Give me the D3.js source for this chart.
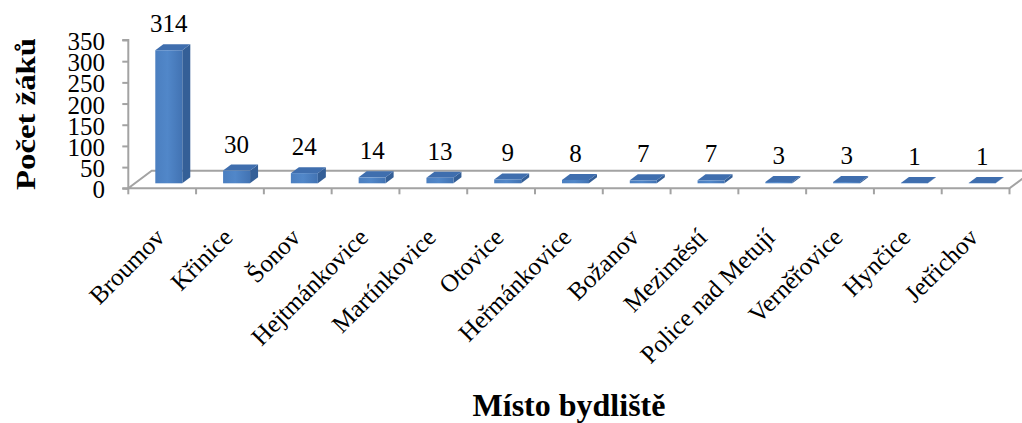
<!DOCTYPE html>
<html>
<head>
<meta charset="utf-8">
<script src="https://cdn.jsdelivr.net/npm/d3@7"></script>
<style>
  html, body { margin: 0; padding: 0; background: #fff; }
  svg { display: block; }
  text { font-family: "Liberation Serif", "Times New Roman", serif; fill: #000; }
</style>
</head>
<body>
<svg id="chart" width="1022" height="423"></svg>
<script>
// Počet žáků podle místa bydliště
const categories = ["Broumov", "Křinice", "Šonov", "Hejtmánkovice", "Martínkovice", "Otovice",
  "Heřmánkovice", "Božanov", "Meziměstí", "Police nad Metují", "Verněřovice", "Hynčice", "Jetřichov"];
const values = [314, 30, 24, 14, 13, 9, 8, 7, 7, 3, 3, 1, 1];
const yTicks = [0, 50, 100, 150, 200, 250, 300, 350];
const yTitle = "Počet žáků";
const xTitle = "Místo bydliště";

const svg = d3.select("#chart");

// plot frame (front edge of the floor and value axis)
const plotLeft = 128.3, plotRight = 1009.5, plotTop = 40, plotBottom = 188.3;
// oblique projection of the floor depth
const floorDx = 23.4, floorDy = -17.6;
// bars sit part way into the floor and have their own depth
const barOffX = 6.6, barOffY = -5;
const barDx = 8, barDy = -6;
const barW = 27;

const x = d3.scaleBand().domain(categories).range([plotLeft, plotRight]).padding(0);
const y = d3.scaleLinear().domain([0, 350]).range([plotBottom, plotTop]);

const axisColor = "#a3a3a3";

// floor
svg.append("path")
  .attr("d", `M${plotLeft},${plotBottom} L${plotRight},${plotBottom} L${plotRight + floorDx},${plotBottom + floorDy} L${plotLeft + floorDx},${plotBottom + floorDy} Z`)
  .attr("fill", "#fff")
  .attr("stroke", axisColor)
  .attr("stroke-width", 2);

// value axis
const yAxis = svg.append("g").attr("transform", `translate(${plotLeft},0)`)
  .call(d3.axisLeft(y).tickValues(yTicks).tickSize(6).tickFormat(""));
yAxis.select(".domain").attr("stroke", axisColor).attr("stroke-width", 2)
  .attr("d", `M-6,${plotTop}H0V${plotBottom}H-6`);
yAxis.selectAll(".tick line").attr("stroke", axisColor).attr("stroke-width", 2);

svg.append("g").selectAll("text").data(yTicks).join("text")
  .attr("x", 105)
  .attr("y", d => y(d) + 10)
  .attr("text-anchor", "end")
  .attr("font-size", 25)
  .text(d => d);

// category axis ticks along the front edge
const boundaries = categories.map(c => x(c)).concat([plotRight]);
svg.append("g").selectAll("line").data(boundaries).join("line")
  .attr("x1", d => d).attr("x2", d => d)
  .attr("y1", plotBottom).attr("y2", plotBottom + 6)
  .attr("stroke", axisColor).attr("stroke-width", 2);

// bar shading
const defs = svg.append("defs");
const grad = defs.append("linearGradient").attr("id", "barFront")
  .attr("x1", "0").attr("x2", "1").attr("y1", "0").attr("y2", "0");
grad.append("stop").attr("offset", "0").attr("stop-color", "#4b7fc0");
grad.append("stop").attr("offset", "0.45").attr("stop-color", "#5187c9");
grad.append("stop").attr("offset", "1").attr("stop-color", "#4273b3");

const bars = svg.append("g").selectAll("g").data(categories).join("g");
bars.each(function (c, i) {
  const g = d3.select(this);
  const cx = x(c) + x.bandwidth() / 2 + barOffX;
  const fl = cx - barW / 2, fr = cx + barW / 2;
  const yT = y(values[i]) + barOffY, yB = y(0) + barOffY;
  // side
  g.append("path")
    .attr("d", `M${fr},${yB} L${fr + barDx},${yB + barDy} L${fr + barDx},${yT + barDy} L${fr},${yT} Z`)
    .attr("fill", "#345f97");
  // top
  g.append("path")
    .attr("d", `M${fl},${yT} L${fl + barDx},${yT + barDy} L${fr + barDx},${yT + barDy} L${fr},${yT} Z`)
    .attr("fill", "#3f6eae");
  // front
  g.append("rect")
    .attr("x", fl).attr("y", yT)
    .attr("width", barW).attr("height", Math.max(0, yB - yT))
    .attr("fill", "url(#barFront)");
});

// value labels
svg.append("g").selectAll("text").data(categories).join("text")
  .attr("x", c => x(c) + x.bandwidth() / 2 + barOffX)
  .attr("y", (c, i) => y(values[i]) - 23)
  .attr("text-anchor", "middle")
  .attr("font-size", 25)
  .text((c, i) => values[i]);

// category labels
svg.append("g").selectAll("text").data(categories).join("text")
  .attr("transform", c => `translate(${x(c) + x.bandwidth() / 2 + 4},239) rotate(-45)`)
  .attr("text-anchor", "end")
  .attr("font-size", 25)
  .text(c => c);

// axis titles
svg.append("text")
  .attr("transform", `translate(35,114) rotate(-90)`)
  .attr("text-anchor", "middle")
  .attr("font-weight", "bold")
  .attr("font-size", 27)
  .attr("textLength", 152)
  .attr("lengthAdjust", "spacingAndGlyphs")
  .text(yTitle);

svg.append("text")
  .attr("x", 569)
  .attr("y", 416)
  .attr("text-anchor", "middle")
  .attr("font-weight", "bold")
  .attr("font-size", 32)
  .text(xTitle);
</script>
</body>
</html>
